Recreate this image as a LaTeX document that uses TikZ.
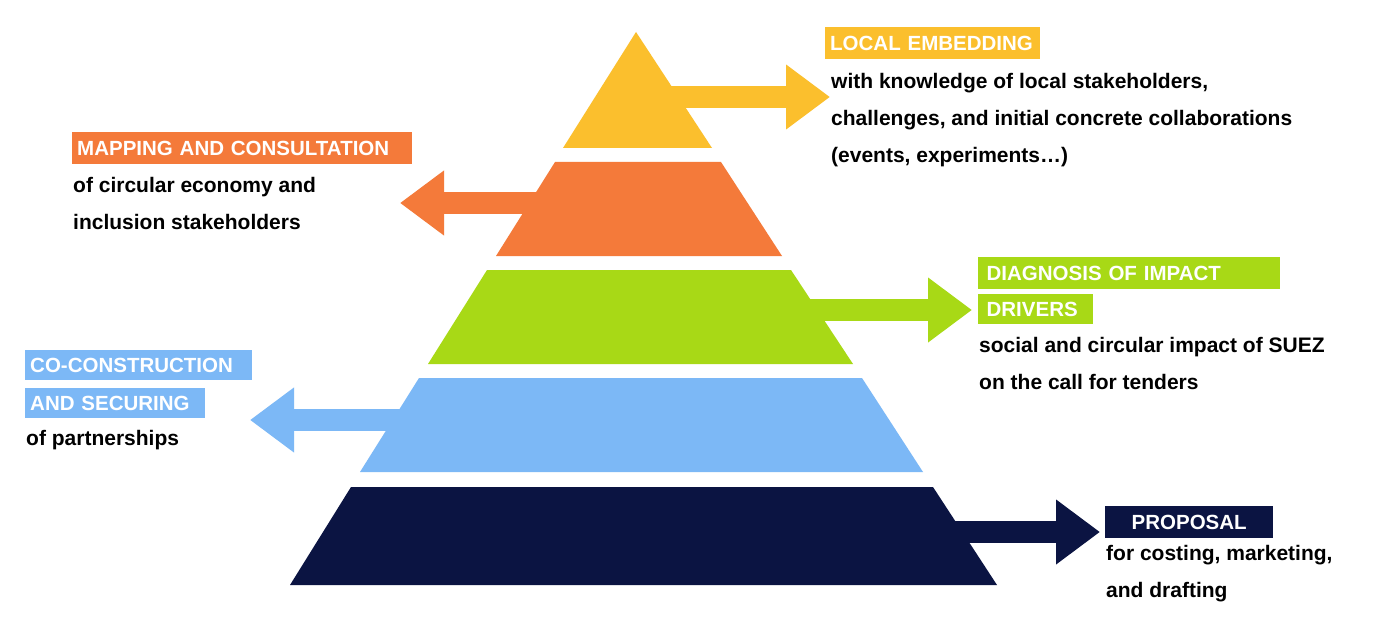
\documentclass[tikz,border=0pt]{standalone}
\usepackage{fontspec}
\setmainfont{Liberation Sans}
\usetikzlibrary{arrows.meta, positioning}
\definecolor{cYellow}{HTML}{FBBF2D}
\definecolor{cOrange}{HTML}{F47A3A}
\definecolor{cGreen}{HTML}{A8D916}
\definecolor{cBlue}{HTML}{7CB8F6}
\definecolor{cNavy}{HTML}{0B1442}
\tikzset{
  head/.style={fill=#1, text=white, font=\bfseries\fontsize{20.5}{22}\selectfont,
    anchor=west, inner xsep=5pt, minimum height=32pt, align=left},
  body/.style={anchor=west, inner sep=0pt, align=left,
    font=\bfseries\fontsize{21}{37}\selectfont},
  fat/.style={#1, line width=22pt, -{Triangle[width=62pt,length=44pt]}}
}
\begin{document}
\begin{tikzpicture}[x=1pt,y=-1pt]
  \useasboundingbox[fill=white] (0,0) rectangle (1400,631);
  % arrows behind the layers
  \coordinate (yS) at (660,97);   \coordinate (yE) at (830,97);
  \coordinate (oS) at (560,203);  \coordinate (oE) at (400,203);
  \coordinate (gS) at (800,310);  \coordinate (gE) at (972,310);
  \coordinate (bS) at (420,420);  \coordinate (bE) at (250,420);
  \coordinate (nS) at (940,532);  \coordinate (nE) at (1100,532);
  \draw[fat=cYellow] (yS) -- (yE);
  \draw[fat=cOrange] (oS) -- (oE);
  \draw[fat=cGreen] (gS) -- (gE);
  \draw[fat=cBlue] (bS) -- (bE);
  \draw[fat=cNavy] (nS) -- (nE);
  % pyramid
  \fill[cYellow] (636,32) -- (712,148) -- (563,148) -- cycle;
  \fill[cOrange] (555,162) -- (721,162) -- (782,256) -- (496,256) -- cycle;
  \fill[cGreen] (487,270) -- (791,270) -- (853,364) -- (428,364) -- cycle;
  \fill[cBlue] (419,378) -- (862,378) -- (923,472) -- (360,472) -- cycle;
  \fill[cNavy] (351,487) -- (933,487) -- (997,585) -- (290,585) -- cycle;
  % labels
  \node[head=cYellow, text width=205pt] (local) at (825,43) {LOCAL EMBEDDING};
  \node[body] (localtxt) at (831,120) {with knowledge of local stakeholders,\\challenges, and initial concrete collaborations\\(events, experiments…)};
  \node[head=cOrange, text width=330pt] (map) at (72,148) {MAPPING AND CONSULTATION};
  \node[body] (maptxt) at (73,203) {of circular economy and\\inclusion stakeholders};
  \node[head=cGreen, text width=292pt] (diag) at (978,273) {\,DIAGNOSIS OF IMPACT};
  \node[head=cGreen, text width=105pt, minimum height=30pt] (diag2) at (978,309) {\,DRIVERS};
  \node[body] (diagtxt) at (979,363) {social and circular impact of SUEZ\\on the call for tenders};
  \node[head=cBlue, text width=217pt, minimum height=30pt] (cocon) at (25,365) {CO-CONSTRUCTION};
  \node[head=cBlue, text width=170pt, minimum height=30pt] (cocon2) at (25,403) {AND SECURING};
  \node[body] (cocontxt) at (26,440) {of partnerships};
  \node[head=cNavy, text width=158pt, align=center] (prop) at (1105,522) {PROPOSAL};
  \node[body] (proptxt) at (1106,574) {for costing, marketing,\\and drafting};
\end{tikzpicture}
\end{document}
